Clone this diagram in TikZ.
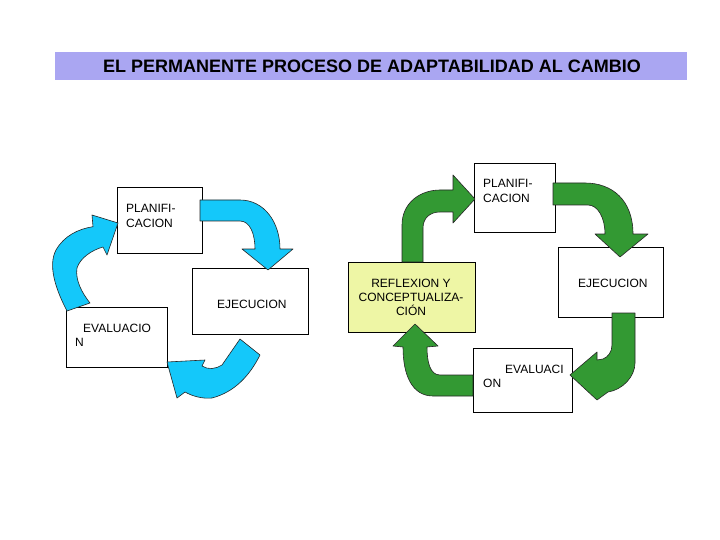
\documentclass[tikz,border=0pt]{standalone}
\usepackage{fontspec}
\setmainfont{Liberation Sans}
\definecolor{titlebg}{RGB}{170,166,242}
\definecolor{cyanarrow}{RGB}{20,200,250}
\definecolor{greenarrow}{RGB}{51,153,51}
\definecolor{reflfill}{RGB}{238,246,165}
\begin{document}
\begin{tikzpicture}[x=1pt,y=-1pt,
  box/.style={draw=black, line width=0.8pt, fill=white, inner sep=0pt, outer sep=0pt, anchor=north west},
  lbl/.style={font=\fontsize{12}{14}\selectfont, anchor=base west, inner sep=0pt},
  blk/.style={draw=black!85, line width=0.6pt, line join=round},
  bluearrow/.style={blk, fill=cyanarrow},
  grnarrow/.style={blk, fill=greenarrow}]
\fill[white] (0,0) rectangle (720,540);
\path[use as bounding box] (0,0) rectangle (720,540);

% title
\node[fill=titlebg, minimum width=632pt, minimum height=28pt, inner sep=0pt, anchor=north west] (tbar) at (55,52) {};
\node[font=\bfseries\fontsize{18}{20}\selectfont, anchor=base, inner sep=0pt] (title) at (372,73) {EL PERMANENTE PROCESO DE ADAPTABILIDAD AL CAMBIO};

% left cycle boxes
\node[box, minimum width=85pt, minimum height=66pt] (lplan) at (117,187) {};
\node[box, minimum width=116pt, minimum height=66pt] (lejec) at (192,268) {};
\node[box, minimum width=101pt, minimum height=60pt] (leval) at (66,307) {};
\node[lbl] (lplant1) at (126,213) {PLANIFI-};
\node[lbl] (lplant2) at (126,227) {CACION};
\node[lbl] (leject) at (217,308) {EJECUCION};
\node[lbl] (levalt1) at (83,332) {EVALUACIO};
\node[lbl] (levalt2) at (75,346.5) {N};

% right cycle boxes
\node[box, minimum width=81pt, minimum height=69pt] (rplan) at (474,163) {};
\node[box, minimum width=105pt, minimum height=70pt] (rejec) at (558,247) {};
\node[box, minimum width=99pt, minimum height=64pt] (reval) at (473,348) {};
\node[box, fill=reflfill, minimum width=127pt, minimum height=70pt] (refl) at (348,262) {};
\node[lbl] (rplant1) at (483,188) {PLANIFI-};
\node[lbl] (rplant2) at (483,203) {CACION};
\node[lbl] (reject) at (578,287) {EJECUCION};
\node[lbl] (revalt1) at (505,373) {EVALUACI};
\node[lbl] (revalt2) at (483,387) {ON};
\node[lbl, anchor=base] (reflt1) at (411,287) {REFLEXION Y};
\node[lbl, anchor=base] (reflt2) at (411,301.5) {CONCEPTUALIZA-};
\node[lbl, anchor=base] (reflt3) at (411,315) {CIÓN};

% blue arrows
\draw[bluearrow] (200,200) -- (240,200) .. controls (264,200) and (280,222) .. (280,249)
  -- (293,249) -- (268,270) -- (242,249) -- (255,249)
  .. controls (255,234) and (250,221) .. (240,221) -- (200,221) -- cycle;
\draw[bluearrow] (240,339) -- (260,355) .. controls (250,375) and (235,392) .. (212,398)
  .. controls (202,399) and (192,396) .. (185,392) -- (177,398) -- (167,362) -- (205,360)
  -- (202,366) .. controls (208,370) and (216,369) .. (222,365) -- cycle;
\draw[bluearrow] (67,311) .. controls (55,288) and (48,265) .. (56,250)
  .. controls (64,236) and (78,229) .. (93,226.7) -- (92,215) -- (118,223) -- (107,255)
  -- (103,247) .. controls (92,250) and (80,258) .. (77,268)
  .. controls (75,280) and (82,293) .. (90,303) -- cycle;

% green arrows
\draw[grnarrow] (402,262) -- (402,225) .. controls (402,203) and (420,190) .. (440,190)
  -- (453,190) -- (453,175) -- (475,199) -- (453,223) -- (453,212) -- (440,212)
  .. controls (430,212) and (423,218) .. (423,228) -- (423,262) -- cycle;
\draw[grnarrow] (553,183) -- (585,183) .. controls (612,183) and (633,200) .. (633,234)
  -- (648,234) -- (620,257) -- (595,234) -- (605,234)
  .. controls (605,218) and (598,205) .. (588,205) -- (553,205) -- cycle;
\draw[grnarrow] (612,313) -- (635,313) -- (635,363) .. controls (635,377) and (622,390) .. (608,392)
  -- (597,400) -- (570,375) -- (597,352) -- (597,360) -- (603,359)
  .. controls (608,357) and (612,352) .. (612,345) -- cycle;
\draw[grnarrow] (473,375) -- (473,396) -- (433,396) .. controls (412,396) and (403,375) .. (403,347)
  -- (393,346) -- (415,324) -- (438,346) -- (427,347)
  .. controls (427,362) and (430,375) .. (440,375) -- cycle;
\end{tikzpicture}
\end{document}
